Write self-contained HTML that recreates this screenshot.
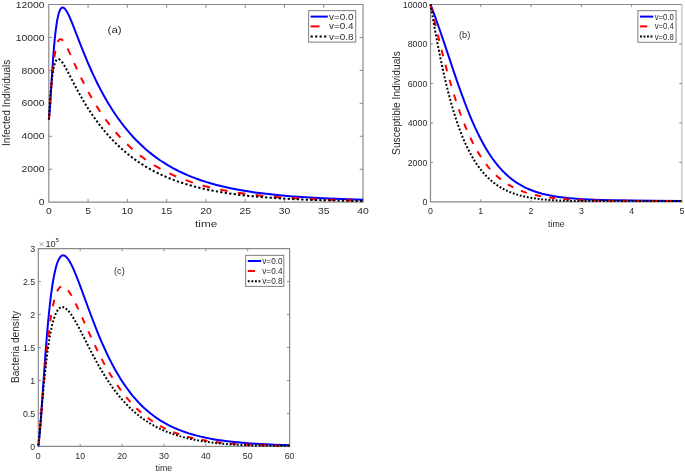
<!DOCTYPE html>
<html><head><meta charset="utf-8"><style>
html,body{margin:0;padding:0;background:#fff;}
svg{display:block;will-change:transform;}
text{font-family:"Liberation Sans",sans-serif;}
</style></head><body>
<svg width="685" height="473" viewBox="0 0 685 473">
<rect width="685" height="473" fill="#fff"/>
<path d="M48.8,4.5 H363 M48.8,3.9 V202.2 H363.6" stroke="#8a8a8a" stroke-width="1.2" fill="none"/>
<path d="M363,3.9 V202.2" stroke="#8a8a8a" stroke-width="1.2" fill="none"/>
<path d="M88.07,202.2 v-3.3 M88.07,4.5 v3.3 M127.35,202.2 v-3.3 M127.35,4.5 v3.3 M166.62,202.2 v-3.3 M166.62,4.5 v3.3 M205.9,202.2 v-3.3 M205.9,4.5 v3.3 M245.18,202.2 v-3.3 M245.18,4.5 v3.3 M284.45,202.2 v-3.3 M284.45,4.5 v3.3 M323.73,202.2 v-3.3 M323.73,4.5 v3.3 M48.8,169.25 h3.3 M363,169.25 h-3.3 M48.8,136.3 h3.3 M363,136.3 h-3.3 M48.8,103.35 h3.3 M363,103.35 h-3.3 M48.8,70.4 h3.3 M363,70.4 h-3.3 M48.8,37.45 h3.3 M363,37.45 h-3.3" stroke="#8a8a8a" stroke-width="1" fill="none"/>
<path d="M48.9,119.55 49.33,115.24 49.88,108.11 52.14,72.4 53.33,55.53 54,47.34 54.58,40.86 55.2,34.8 55.86,29.26 56.68,23.37 57.41,19.16 58.16,15.61 58.63,13.8 59.11,12.22 59.44,11.3 59.94,10.12 60.45,9.17 60.97,8.43 61.51,7.92 62.05,7.61 62.61,7.5 63.18,7.59 63.76,7.85 64.55,8.47 65.16,9.13 65.99,10.23 66.84,11.58 67.71,13.14 68.6,14.92 69.74,17.38 71.15,20.66 72.86,24.85 81.18,46.29 85.64,57.39 88.14,63.33 90.4,68.5 93.06,74.35 95.45,79.41 97.55,83.69 99.69,87.91 101.89,92.07 103.75,95.47 106.02,99.49 108.35,103.44 110.72,107.3 112.73,110.45 115.6,114.76 118.53,118.95 121.52,123.01 124.14,126.4 127.25,130.22 129.97,133.4 133.2,136.99 136.01,139.96 138.88,142.83 142.28,146.07 145.74,149.17 149.27,152.15 152.34,154.6 155.98,157.34 159.69,159.96 163.46,162.46 167.29,164.84 171.18,167.11 175.14,169.26 179.16,171.31 183.25,173.25 187.39,175.08 191.6,176.82 196.49,178.69 200.84,180.23 205.88,181.88 210.36,183.23 215.56,184.68 220.84,186.03 226.2,187.29 231.64,188.45 237.17,189.54 242.78,190.54 249.19,191.58 254.97,192.43 261.58,193.31 268.29,194.11 275.1,194.84 282.02,195.51 289.83,196.18 297.77,196.78 305.84,197.32 314.03,197.81 323.19,198.28 341.99,199.07 363.2,199.74" stroke="#0000ff" stroke-width="2.0" fill="none" stroke-linejoin="round"/>
<path d="M48.9,119.55 49.4,112.86M50.05,103.98 50.54,97.29M51.23,88.41 51.78,81.72M52.58,72.86 53.27,66.18M54.36,57.34 55.43,50.69M57.75,42.04 58.31,40.91 58.89,40.06 59.49,39.49 60.13,39.19 60.8,39.16 61.48,39.4 62.21,39.91 63,40.72M67.63,48.64 70.52,54.87M74.23,63.17 77.07,69.41M80.97,77.65 84.03,83.81M88.3,91.91 91.69,97.95M96.42,105.85 100.2,111.71M105.5,119.34 109.73,124.97M115.68,132.23 120.44,137.54M127.11,144.32 132.44,149.21M139.89,155.36 145.8,159.73M154,165.11 160.46,168.86M169.33,173.4 176.23,176.49M185.63,180.17 192.87,182.63M202.62,185.51 210.08,187.42M220.08,189.63 227.68,191.08M237.81,192.75 245.49,193.84M255.7,195.09 263.43,195.9M273.69,196.83 281.44,197.43M291.73,198.12 299.49,198.57M309.79,199.08 317.57,199.41M327.87,199.79 335.65,200.03M345.96,200.31 353.74,200.49" stroke="#ff0000" stroke-width="2.0" fill="none"/>
<path d="M48.9,119.55 49,117.64M49.1,115.69 49.21,113.74M49.31,111.8 49.43,109.85M49.54,107.9 49.66,105.95M49.78,104.01 49.91,102.06M50.04,100.11 50.18,98.17M50.32,96.22 50.47,94.28M50.62,92.33 50.79,90.39M50.96,88.44 51.13,86.5M51.32,84.55 51.52,82.61M51.73,80.67 51.96,78.73M52.2,76.79 52.46,74.85M52.75,72.92 53.06,70.99M53.41,69.06 53.81,67.14M54.27,65.23 54.83,63.34M55.56,61.5 56.07,60.54 56.63,59.79M58.54,58.96 59.43,59.28 60.4,60.01M61.78,61.55 62.96,63.22M64.03,64.94 65.04,66.68M66.02,68.44 66.96,70.21M67.9,71.99 68.82,73.77M69.73,75.55 70.65,77.33M71.56,79.12 72.48,80.9M73.4,82.68 74.33,84.46M75.26,86.24 76.2,88.01M77.15,89.78 78.11,91.55M79.08,93.31 80.06,95.06M81.06,96.82 82.06,98.56M83.08,100.3 84.11,102.04M85.16,103.77 86.21,105.49M87.29,107.21 88.37,108.92M89.48,110.62 90.59,112.32M91.73,114.01 92.88,115.69M94.04,117.36 95.22,119.02M96.42,120.68 97.64,122.32M98.87,123.95 100.12,125.58M101.39,127.19 102.68,128.8M103.99,130.39 105.31,131.97M106.66,133.53 108.03,135.09M109.41,136.63 110.82,138.16M112.24,139.67 113.69,141.17M115.15,142.66 116.64,144.13M118.15,145.58 119.68,147.02M121.23,148.44 122.8,149.84M124.4,151.22 126.01,152.59M127.65,153.93 129.31,155.26M130.99,156.57 132.69,157.85M134.41,159.12 136.15,160.36M137.91,161.59 139.7,162.79M141.5,163.96 143.32,165.12M145.17,166.25 147.03,167.36M148.91,168.44 150.8,169.51M152.72,170.54 154.65,171.56M156.6,172.55 158.57,173.51M160.55,174.45 162.55,175.37M164.56,176.26 166.58,177.13M168.62,177.98 170.67,178.8M172.74,179.6 174.81,180.38M176.9,181.13 179,181.86M181.1,182.57 183.22,183.26M185.35,183.92 187.48,184.57M189.63,185.19 191.78,185.79M193.94,186.38 196.1,186.94M198.27,187.49 200.45,188.02M202.64,188.53 204.83,189.02M207.02,189.5 209.22,189.96M211.42,190.4 213.63,190.83M215.84,191.24 218.05,191.64M220.27,192.02 222.49,192.39M224.72,192.75 226.95,193.09M229.17,193.43 231.41,193.75M233.64,194.05 235.88,194.35M238.11,194.64 240.35,194.91M242.6,195.18 244.84,195.43M247.08,195.68 249.33,195.91M251.58,196.14 253.82,196.36M256.07,196.57 258.32,196.78M260.58,196.97 262.83,197.16M265.08,197.34 267.33,197.51M269.59,197.68 271.84,197.84M274.1,198 276.35,198.15M278.61,198.29 280.87,198.43M283.12,198.56 285.38,198.69M287.64,198.81 289.9,198.93M292.16,199.04 294.42,199.15M296.67,199.26 298.93,199.36M301.19,199.45 303.45,199.55M305.71,199.64 307.97,199.72M310.23,199.81 312.5,199.89M314.76,199.96 317.02,200.04M319.28,200.11 321.54,200.17M323.8,200.24 326.06,200.3M328.32,200.36 330.58,200.42M332.85,200.48 335.11,200.53M337.37,200.58 339.63,200.63M341.89,200.68 344.16,200.72M346.42,200.77 348.68,200.81M350.94,200.85 353.2,200.89M355.47,200.93 357.73,200.96M359.99,201 362.25,201.03" stroke="#000000" stroke-width="2.0" fill="none"/>
<text x="0" y="0" font-size="8.8" text-anchor="middle" fill="#2b2b2b" transform="translate(48.8,214) scale(1.18,1.0)">0</text>
<text x="0" y="0" font-size="8.8" text-anchor="middle" fill="#2b2b2b" transform="translate(88.07,214) scale(1.18,1.0)">5</text>
<text x="0" y="0" font-size="8.8" text-anchor="middle" fill="#2b2b2b" transform="translate(127.35,214) scale(1.18,1.0)">10</text>
<text x="0" y="0" font-size="8.8" text-anchor="middle" fill="#2b2b2b" transform="translate(166.62,214) scale(1.18,1.0)">15</text>
<text x="0" y="0" font-size="8.8" text-anchor="middle" fill="#2b2b2b" transform="translate(205.9,214) scale(1.18,1.0)">20</text>
<text x="0" y="0" font-size="8.8" text-anchor="middle" fill="#2b2b2b" transform="translate(245.18,214) scale(1.18,1.0)">25</text>
<text x="0" y="0" font-size="8.8" text-anchor="middle" fill="#2b2b2b" transform="translate(284.45,214) scale(1.18,1.0)">30</text>
<text x="0" y="0" font-size="8.8" text-anchor="middle" fill="#2b2b2b" transform="translate(323.73,214) scale(1.18,1.0)">35</text>
<text x="0" y="0" font-size="8.8" text-anchor="middle" fill="#2b2b2b" transform="translate(363,214) scale(1.18,1.0)">40</text>
<text x="0" y="0" font-size="8.8" text-anchor="end" fill="#2b2b2b" transform="translate(44.6,205.3) scale(1.18,1.0)">0</text>
<text x="0" y="0" font-size="8.8" text-anchor="end" fill="#2b2b2b" transform="translate(44.6,172.35) scale(1.18,1.0)">2000</text>
<text x="0" y="0" font-size="8.8" text-anchor="end" fill="#2b2b2b" transform="translate(44.6,139.4) scale(1.18,1.0)">4000</text>
<text x="0" y="0" font-size="8.8" text-anchor="end" fill="#2b2b2b" transform="translate(44.6,106.45) scale(1.18,1.0)">6000</text>
<text x="0" y="0" font-size="8.8" text-anchor="end" fill="#2b2b2b" transform="translate(44.6,73.5) scale(1.18,1.0)">8000</text>
<text x="0" y="0" font-size="8.8" text-anchor="end" fill="#2b2b2b" transform="translate(44.6,40.55) scale(1.18,1.0)">10000</text>
<text x="0" y="0" font-size="8.8" text-anchor="end" fill="#2b2b2b" transform="translate(44.6,7.6) scale(1.18,1.0)">12000</text>
<text x="0" y="0" font-size="9.2" text-anchor="middle" fill="#2b2b2b" transform="translate(206.2,226.9) scale(1.28,1.0)">time</text>
<text x="0" y="0" font-size="10.1" text-anchor="middle" fill="#2b2b2b" transform="translate(10.1,102.8) rotate(-90) scale(1,1.05)">Infected Individuals</text>
<text x="0" y="0" font-size="9.3" text-anchor="middle" fill="#2b2b2b" transform="translate(114.6,32.6) scale(1.25,1.0)">(a)</text>
<rect x="308.6" y="10.6" width="47.1" height="31.5" fill="#ffffff" stroke="#8a8a8a" stroke-width="1.1"/>
<path d="M310.6,16.6 H327.8" stroke="#0000ff" stroke-width="2"/>
<path d="M310.6,26.4 H319.5" stroke="#ff0000" stroke-width="2"/>
<path d="M310.6,36.5 H327" stroke="#000000" stroke-width="2" stroke-dasharray="2.2 2.3"/>
<text x="0" y="0" font-size="9.2" text-anchor="start" fill="#2b2b2b" transform="translate(329,19.6) scale(1.08,1.0)">v=0.0</text>
<text x="0" y="0" font-size="9.2" text-anchor="start" fill="#2b2b2b" transform="translate(329,29.4) scale(1.08,1.0)">v=0.4</text>
<text x="0" y="0" font-size="9.2" text-anchor="start" fill="#2b2b2b" transform="translate(329,39.5) scale(1.08,1.0)">v=0.8</text>
<path d="M430.5,4.5 H681.9 M430.5,3.9 V201.9 H682.5" stroke="#8a8a8a" stroke-width="1.2" fill="none"/>
<path d="M681.9,3.9 V201.9" stroke="#bdbdbd" stroke-width="1.2" fill="none"/>
<path d="M480.78,201.9 v-2.6 M480.78,4.5 v2.6 M531.06,201.9 v-2.6 M531.06,4.5 v2.6 M581.34,201.9 v-2.6 M581.34,4.5 v2.6 M631.62,201.9 v-2.6 M631.62,4.5 v2.6 M430.5,162.42 h2.6 M681.9,162.42 h-2.6 M430.5,122.94 h2.6 M681.9,122.94 h-2.6 M430.5,83.46 h2.6 M681.9,83.46 h-2.6 M430.5,43.98 h2.6 M681.9,43.98 h-2.6" stroke="#8a8a8a" stroke-width="1" fill="none"/>
<path d="M430.5,4.4 435.14,16.93 439.6,29.51 443.84,41.93 454.95,75.1 458.19,84.49 461.38,93.46 465.02,103.23 468.57,112.29 472,120.53 473.77,124.58 475.58,128.56 477.74,133.11 479.95,137.54 482.2,141.84 484.18,145.41 486.53,149.44 488.59,152.76 490.68,155.95 492.81,159.02 494.98,161.95 497.18,164.75 499.42,167.41 501.7,169.94 504.02,172.33 506.37,174.58 508.76,176.71 511.59,179.02 514.06,180.86 516.57,182.59 519.11,184.19 521.7,185.68 524.31,187.05 526.97,188.33 529.66,189.5 532.85,190.75 535.62,191.73 538.9,192.76 542.23,193.69 545.62,194.52 549.05,195.26 553.03,196.02 557.08,196.67 561.2,197.25 565.38,197.75 569.63,198.18 573.94,198.55 578.87,198.92 588.99,199.49 601.21,199.96 615.11,200.31 632.13,200.59 653.95,200.83 681.9,201.04" stroke="#0000ff" stroke-width="2.0" fill="none" stroke-linejoin="round"/>
<path d="M430.5,4.4 432.07,10.89M434.14,19.5 435.7,26M437.78,34.6 439.37,41.09M441.51,49.68 443.15,56.15M445.39,64.71 447.12,71.15M449.5,79.67 451.36,86.07M453.93,94.52 455.96,100.86M458.79,109.22 461.03,115.48M464.2,123.69 466.74,129.81M470.35,137.81 473.29,143.73M477.51,151.38 480.96,156.96M485.97,164.03 488.03,166.64 490.09,169.06M496.04,175.23 498.45,177.39 500.91,179.42M507.82,184.28 510.51,185.88 513.34,187.4M520.97,190.81 523.86,191.87 526.9,192.87M534.92,195.03 541.04,196.3M549.22,197.58 555.41,198.32M563.65,199.06 569.87,199.49M578.13,199.91 584.36,200.15M592.62,200.39 598.85,200.52M607.12,200.65 613.35,200.73M621.62,200.8 627.85,200.84M636.12,200.88 642.35,200.9M650.62,200.92 656.85,200.94M665.12,200.95 671.35,200.96M679.62,200.96 681.9,200.96" stroke="#ff0000" stroke-width="2.0" fill="none"/>
<path d="M430.5,4.4 430.73,5.78M431.06,7.7 431.39,9.62M431.72,11.53 432.05,13.45M432.38,15.37 432.72,17.29M433.05,19.2 433.39,21.12M433.73,23.03 434.07,24.95M434.42,26.86 434.76,28.78M435.11,30.69 435.46,32.6M435.82,34.52 436.17,36.43M436.53,38.34 436.89,40.25M437.26,42.16 437.62,44.07M437.99,45.98 438.37,47.89M438.74,49.79 439.12,51.7M439.5,53.61 439.89,55.51M440.28,57.42 440.67,59.32M441.07,61.22 441.47,63.12M441.88,65.02 442.29,66.92M442.7,68.82 443.12,70.72M443.54,72.62 443.97,74.51M444.4,76.41 444.84,78.3M445.28,80.19 445.73,82.08M446.18,83.97 446.64,85.85M447.11,87.74 447.58,89.62M448.06,91.5 448.54,93.38M449.03,95.26 449.53,97.13M450.03,99.01 450.54,100.88M451.06,102.74 451.59,104.61M452.13,106.47 452.67,108.33M453.22,110.19 453.78,112.04M454.36,113.9 454.94,115.74M455.53,117.59 456.13,119.43M456.74,121.26 457.36,123.09M458,124.92 458.64,126.74M459.3,128.56 459.98,130.37M460.66,132.17 461.36,133.97M462.07,135.76 462.8,137.55M463.55,139.33 464.31,141.1M465.09,142.86 465.88,144.61M466.69,146.35 467.53,148.09M468.38,149.81 469.25,151.52M470.15,153.21 471.06,154.9M472,156.56 472.96,158.22M473.95,159.85 474.96,161.47M476,163.07 477.06,164.65M478.15,166.2 479.27,167.74M480.42,169.25 481.6,170.73M482.81,172.18 484.05,173.6M485.32,175 486.62,176.35M487.95,177.68 489.31,178.96M490.7,180.21 492.13,181.42M493.58,182.59 495.06,183.72M496.56,184.8 498.1,185.84M499.66,186.83 501.24,187.78M502.85,188.68 504.47,189.54M506.12,190.36 507.78,191.13M509.46,191.86 511.16,192.55M512.87,193.2 514.59,193.8M516.33,194.37 518.07,194.91M519.82,195.41 521.58,195.87M523.35,196.31 525.12,196.71M526.9,197.09 528.68,197.44M530.47,197.76 532.26,198.06M534.05,198.34 535.85,198.59M537.65,198.83 539.45,199.05M541.25,199.25 543.06,199.44M544.86,199.61 546.67,199.76M548.48,199.91 550.29,200.04M552.1,200.16 553.91,200.27M555.72,200.36 557.53,200.45M559.34,200.54 561.15,200.61M562.96,200.68 564.77,200.74M566.58,200.79 568.4,200.84M570.21,200.88 572.02,200.92M573.83,200.95 575.64,200.98M577.46,201.01 579.27,201.03M581.08,201.05 582.89,201.06M584.71,201.08 586.52,201.09M588.33,201.1 590.14,201.1M591.96,201.11 593.77,201.11M595.58,201.11 597.39,201.11M599.21,201.11 601.02,201.11M602.83,201.11 604.64,201.1M606.46,201.1 608.27,201.1M610.08,201.09 611.89,201.08M613.71,201.08 615.52,201.07M617.33,201.06 619.14,201.06M620.96,201.05 622.77,201.04M624.58,201.03 626.39,201.03M628.21,201.02 630.02,201.01M631.83,201 633.64,201M635.46,200.99 637.27,200.98M639.08,200.98 640.89,200.97M642.71,200.96 644.52,200.96M646.33,200.95 648.14,200.94M649.96,200.94 651.77,200.93M653.58,200.93 655.39,200.92M657.21,200.92 659.02,200.91M660.83,200.91 662.64,200.91M664.46,200.9 666.27,200.9M668.08,200.9 669.89,200.89M671.71,200.89 673.52,200.89M675.33,200.89 677.14,200.89M678.96,200.89 680.77,200.88" stroke="#000000" stroke-width="2.0" fill="none"/>
<text x="430.5" y="214" font-size="8.8" text-anchor="middle" fill="#2b2b2b">0</text>
<text x="480.78" y="214" font-size="8.8" text-anchor="middle" fill="#2b2b2b">1</text>
<text x="531.06" y="214" font-size="8.8" text-anchor="middle" fill="#2b2b2b">2</text>
<text x="581.34" y="214" font-size="8.8" text-anchor="middle" fill="#2b2b2b">3</text>
<text x="631.62" y="214" font-size="8.8" text-anchor="middle" fill="#2b2b2b">4</text>
<text x="681.9" y="214" font-size="8.8" text-anchor="middle" fill="#2b2b2b">5</text>
<text x="427.3" y="205" font-size="8.8" text-anchor="end" fill="#2b2b2b">0</text>
<text x="427.3" y="165.52" font-size="8.8" text-anchor="end" fill="#2b2b2b">2000</text>
<text x="427.3" y="126.04" font-size="8.8" text-anchor="end" fill="#2b2b2b">4000</text>
<text x="427.3" y="86.56" font-size="8.8" text-anchor="end" fill="#2b2b2b">6000</text>
<text x="427.3" y="47.08" font-size="8.8" text-anchor="end" fill="#2b2b2b">8000</text>
<text x="427.3" y="7.6" font-size="8.8" text-anchor="end" fill="#2b2b2b">10000</text>
<text x="556.4" y="226.9" font-size="8.8" text-anchor="middle" fill="#2b2b2b">time</text>
<text x="0" y="0" font-size="10.2" text-anchor="middle" fill="#2b2b2b" transform="translate(399.6,103.1) rotate(-90) scale(1,1.0)">Susceptible Individuals</text>
<text x="464.6" y="37.6" font-size="9.2" text-anchor="middle" fill="#2b2b2b">(b)</text>
<rect x="637.9" y="10.6" width="38.2" height="31.7" fill="#ffffff" stroke="#8a8a8a" stroke-width="1.1"/>
<path d="M640,16.6 H653.3" stroke="#0000ff" stroke-width="2"/>
<path d="M640,26.4 H647.3" stroke="#ff0000" stroke-width="2"/>
<path d="M640,36.5 H652.5" stroke="#000000" stroke-width="2" stroke-dasharray="1.9 1.6"/>
<text x="0" y="0" font-size="9.0" text-anchor="start" fill="#2b2b2b" transform="translate(654.7,19.6) scale(0.86,1.0)">v=0.0</text>
<text x="0" y="0" font-size="9.0" text-anchor="start" fill="#2b2b2b" transform="translate(654.7,29.4) scale(0.86,1.0)">v=0.4</text>
<text x="0" y="0" font-size="9.0" text-anchor="start" fill="#2b2b2b" transform="translate(654.7,39.5) scale(0.86,1.0)">v=0.8</text>
<path d="M38.3,248.7 H289.6 M38.3,248.1 V446.4 H290.2" stroke="#8a8a8a" stroke-width="1.2" fill="none"/>
<path d="M289.6,248.1 V446.4" stroke="#8a8a8a" stroke-width="1.2" fill="none"/>
<path d="M80.18,446.4 v-2.6 M80.18,248.7 v2.6 M122.07,446.4 v-2.6 M122.07,248.7 v2.6 M163.95,446.4 v-2.6 M163.95,248.7 v2.6 M205.83,446.4 v-2.6 M205.83,248.7 v2.6 M247.72,446.4 v-2.6 M247.72,248.7 v2.6 M38.3,413.45 h2.6 M289.6,413.45 h-2.6 M38.3,380.5 h2.6 M289.6,380.5 h-2.6 M38.3,347.55 h2.6 M289.6,347.55 h-2.6 M38.3,314.6 h2.6 M289.6,314.6 h-2.6 M38.3,281.65 h2.6 M289.6,281.65 h-2.6" stroke="#8a8a8a" stroke-width="1" fill="none"/>
<path d="M38.3,446.3 38.76,443.07 39.25,438.66 39.8,432.73 40.41,425.27 41.43,411.33 44.75,363.42 45.96,347.37 46.99,334.58 48.09,322.13 49.11,311.74 50.18,301.96 51.14,294.17 52.47,284.76 53.16,280.51 53.87,276.58 54.6,272.97 55.34,269.7 56.09,266.76 56.67,264.79 57.26,263 58.06,260.92 58.87,259.18 59.7,257.77 60.55,256.69 60.98,256.27 61.42,255.94 61.85,255.68 62.3,255.49 62.74,255.39 63.19,255.36 63.65,255.4 64.11,255.51 64.57,255.7 65.27,256.11 65.74,256.46 66.46,257.12 67.68,258.53 68.92,260.31 70.45,262.91 71.74,265.42 73.34,268.8 75.79,274.56 78.34,281 81.26,288.79 88.37,308.23 91.63,316.99 95.33,326.62 98.81,335.26 102.75,344.52 106.45,352.64 108.33,356.58 110.24,360.43 112.18,364.19 114.14,367.85 116.13,371.41 118.14,374.86 120.18,378.22 122.25,381.46 124.34,384.6 126.03,387.03 128.17,389.98 130.33,392.82 132.52,395.55 134.73,398.18 136.97,400.71 139.24,403.13 141.53,405.45 143.84,407.68 146.19,409.81 148.56,411.84 150.95,413.78 153.86,416 156.8,418.09 159.78,420.06 162.8,421.92 165.85,423.66 168.95,425.31 172.08,426.85 175.24,428.29 178.45,429.64 181.69,430.91 185.51,432.28 188.83,433.37 192.75,434.55 196.73,435.63 200.75,436.63 204.82,437.54 208.94,438.38 213.11,439.15 217.94,439.94 222.22,440.57 227.18,441.23 232.2,441.81 237.28,442.34 242.44,442.8 248.31,443.27 254.27,443.68 260.98,444.08 274.73,444.71 289.6,445.19" stroke="#0000ff" stroke-width="2.0" fill="none" stroke-linejoin="round"/>
<path d="M38.48,444.76 39.17,438.14M39.98,429.35 40.55,422.71M41.27,413.91 41.81,407.27M42.52,398.46 43.06,391.82M43.78,383.02 44.35,376.39M45.12,367.59 45.72,360.96M46.57,352.17 47.25,345.54M48.22,336.77 49.02,330.16M50.2,321.41 51.22,314.84M52.81,306.17 54.3,299.7M57.12,291.41 58.08,289.57 59.08,288.14 60.11,287.12 61.14,286.5M68.03,290.3 69.72,292.69 71.59,295.76M75.64,303.46 78.46,309.4M82.08,317.35 84.78,323.36M88.36,331.32 91.1,337.31M94.81,345.2 97.69,351.11M101.64,358.87 104.74,364.66M109.03,372.21 112.42,377.8M117.15,385.04 120.92,390.35M126.21,397.14 130.43,402.05M136.35,408.21 141.07,412.56M147.66,417.89 152.87,421.55M160.07,425.89 165.69,428.77M173.35,432.09 179.25,434.23M187.2,436.64 193.27,438.16M201.39,439.83 207.54,440.88M215.74,442.02 221.94,442.72M230.17,443.49 236.39,443.96M244.64,444.46 250.87,444.77M259.13,445.11 265.36,445.31M273.63,445.53 279.86,445.66M288.12,445.8 289.6,445.82" stroke="#ff0000" stroke-width="2.0" fill="none"/>
<path d="M38.42,445.18 38.62,443.26M38.81,441.33 38.99,439.4M39.17,437.48 39.35,435.55M39.52,433.62 39.69,431.69M39.86,429.76 40.03,427.83M40.2,425.9 40.36,423.97M40.53,422.04 40.69,420.11M40.86,418.18 41.02,416.25M41.18,414.33 41.35,412.4M41.51,410.47 41.68,408.54M41.84,406.61 42.01,404.68M42.18,402.75 42.35,400.82M42.52,398.89 42.69,396.96M42.86,395.03 43.04,393.11M43.22,391.18 43.39,389.25M43.57,387.32 43.76,385.39M43.94,383.47 44.13,381.54M44.32,379.61 44.51,377.69M44.71,375.76 44.91,373.83M45.11,371.91 45.32,369.98M45.53,368.06 45.74,366.13M45.96,364.21 46.18,362.29M46.41,360.37 46.64,358.45M46.88,356.52 47.12,354.6M47.37,352.69 47.63,350.77M47.89,348.85 48.17,346.94M48.45,345.02 48.74,343.11M49.04,341.2 49.35,339.29M49.67,337.38 50,335.48M50.35,333.58 50.72,331.68M51.1,329.79 51.5,327.9M51.93,326.01 52.38,324.14M52.87,322.27 53.38,320.41M53.94,318.57 54.56,316.75M55.23,314.95 55.99,313.19M56.86,311.49 57.89,309.89M59.12,308.48 59.88,307.88 60.65,307.45M62.42,307.09 63.29,307.21 64.18,307.5M65.76,308.43 67.18,309.63M68.47,310.99 69.67,312.45M70.79,313.97 71.86,315.53M72.89,317.13 73.88,318.75M74.85,320.38 75.8,322.04M76.72,323.7 77.63,325.38M78.53,327.06 79.42,328.75M80.3,330.44 81.18,332.14M82.05,333.84 82.92,335.54M83.78,337.24 84.64,338.95M85.51,340.65 86.37,342.35M87.23,344.06 88.1,345.76M88.97,347.46 89.84,349.16M90.72,350.85 91.6,352.54M92.49,354.23 93.38,355.92M94.28,357.6 95.19,359.28M96.1,360.96 97.02,362.62M97.95,364.29 98.88,365.95M99.83,367.6 100.79,369.24M101.75,370.88 102.73,372.52M103.72,374.14 104.72,375.76M105.73,377.37 106.75,378.97M107.79,380.55 108.84,382.14M109.9,383.7 110.97,385.26M112.06,386.81 113.17,388.35M114.29,389.87 115.43,391.38M116.58,392.88 117.75,394.36M118.93,395.82 120.13,397.28M121.35,398.71 122.58,400.13M123.84,401.53 125.11,402.91M126.39,404.27 127.7,405.62M129.02,406.94 130.37,408.24M131.73,409.52 133.11,410.78M134.5,412.02 135.92,413.23M137.35,414.42 138.8,415.58M140.26,416.72 141.75,417.83M143.25,418.92 144.77,419.98M146.3,421.01 147.85,422.02M149.41,423 150.99,423.95M152.58,424.87 154.19,425.77M155.81,426.64 157.44,427.49M159.08,428.3 160.74,429.09M162.4,429.86 164.08,430.59M165.77,431.31 167.46,431.99M169.16,432.65 170.88,433.29M172.6,433.9 174.32,434.49M176.05,435.06 177.79,435.6M179.54,436.13 181.29,436.63M183.05,437.11 184.81,437.57M186.57,438.01 188.34,438.44M190.11,438.84 191.89,439.23M193.67,439.6 195.45,439.96M197.23,440.3 199.02,440.62M200.81,440.93 202.6,441.22M204.39,441.51 206.19,441.78M207.99,442.03 209.78,442.28M211.58,442.51 213.38,442.73M215.18,442.95 216.99,443.15M218.79,443.34 220.6,443.52M222.4,443.7 224.21,443.86M226.01,444.02 227.82,444.17M229.63,444.31 231.44,444.43M233.25,444.54 235.06,444.64M236.87,444.74 238.68,444.83M240.49,444.92 242.3,445M244.11,445.07 245.92,445.14M247.73,445.21 249.54,445.27M251.36,445.32 253.17,445.38M254.98,445.43 256.79,445.47M258.6,445.51 260.42,445.55M262.23,445.58 264.04,445.61M265.85,445.64 267.66,445.67M269.48,445.69 271.29,445.71M273.1,445.73 274.91,445.75M276.73,445.76 278.54,445.77M280.35,445.78 282.16,445.79M283.98,445.8 285.79,445.8M287.6,445.8 289.41,445.81" stroke="#000000" stroke-width="2.0" fill="none"/>
<text x="38.3" y="458.9" font-size="8.8" text-anchor="middle" fill="#2b2b2b">0</text>
<text x="80.18" y="458.9" font-size="8.8" text-anchor="middle" fill="#2b2b2b">10</text>
<text x="122.07" y="458.9" font-size="8.8" text-anchor="middle" fill="#2b2b2b">20</text>
<text x="163.95" y="458.9" font-size="8.8" text-anchor="middle" fill="#2b2b2b">30</text>
<text x="205.83" y="458.9" font-size="8.8" text-anchor="middle" fill="#2b2b2b">40</text>
<text x="247.72" y="458.9" font-size="8.8" text-anchor="middle" fill="#2b2b2b">50</text>
<text x="289.6" y="458.9" font-size="8.8" text-anchor="middle" fill="#2b2b2b">60</text>
<text x="35.2" y="449.5" font-size="8.8" text-anchor="end" fill="#2b2b2b">0</text>
<text x="35.2" y="416.55" font-size="8.8" text-anchor="end" fill="#2b2b2b">0.5</text>
<text x="35.2" y="383.6" font-size="8.8" text-anchor="end" fill="#2b2b2b">1</text>
<text x="35.2" y="350.65" font-size="8.8" text-anchor="end" fill="#2b2b2b">1.5</text>
<text x="35.2" y="317.7" font-size="8.8" text-anchor="end" fill="#2b2b2b">2</text>
<text x="35.2" y="284.75" font-size="8.8" text-anchor="end" fill="#2b2b2b">2.5</text>
<text x="35.2" y="251.8" font-size="8.8" text-anchor="end" fill="#2b2b2b">3</text>
<text x="163.9" y="471.2" font-size="8.8" text-anchor="middle" fill="#2b2b2b">time</text>
<text x="0" y="0" font-size="10.15" text-anchor="middle" fill="#2b2b2b" transform="translate(19.1,347) rotate(-90) scale(1,1.0)">Bacteria density</text>
<text x="119.4" y="273.5" font-size="9.2" text-anchor="middle" fill="#2b2b2b">(c)</text>
<path d="M39.6,242.2 L43.4,246 M43.4,242.2 L39.6,246" stroke="#8a8a8a" stroke-width="0.8" fill="none"/>
<text x="45.5" y="246.7" font-size="9.2" text-anchor="start" fill="#2b2b2b">10</text>
<text x="55.6" y="241.7" font-size="6.2" text-anchor="start" fill="#2b2b2b">5</text>
<rect x="245.6" y="255.4" width="38.2" height="31" fill="#ffffff" stroke="#8a8a8a" stroke-width="1.1"/>
<path d="M247.8,261 H261.2" stroke="#0000ff" stroke-width="2"/>
<path d="M247.8,271 H255" stroke="#ff0000" stroke-width="2"/>
<path d="M247.8,281.3 H260.3" stroke="#000000" stroke-width="2" stroke-dasharray="1.9 1.67"/>
<text x="0" y="0" font-size="9.0" text-anchor="start" fill="#2b2b2b" transform="translate(262.2,264) scale(0.92,1.0)">v=0.0</text>
<text x="0" y="0" font-size="9.0" text-anchor="start" fill="#2b2b2b" transform="translate(262.2,274) scale(0.92,1.0)">v=0.4</text>
<text x="0" y="0" font-size="9.0" text-anchor="start" fill="#2b2b2b" transform="translate(262.2,284.3) scale(0.92,1.0)">v=0.8</text>
</svg>
</body></html>
